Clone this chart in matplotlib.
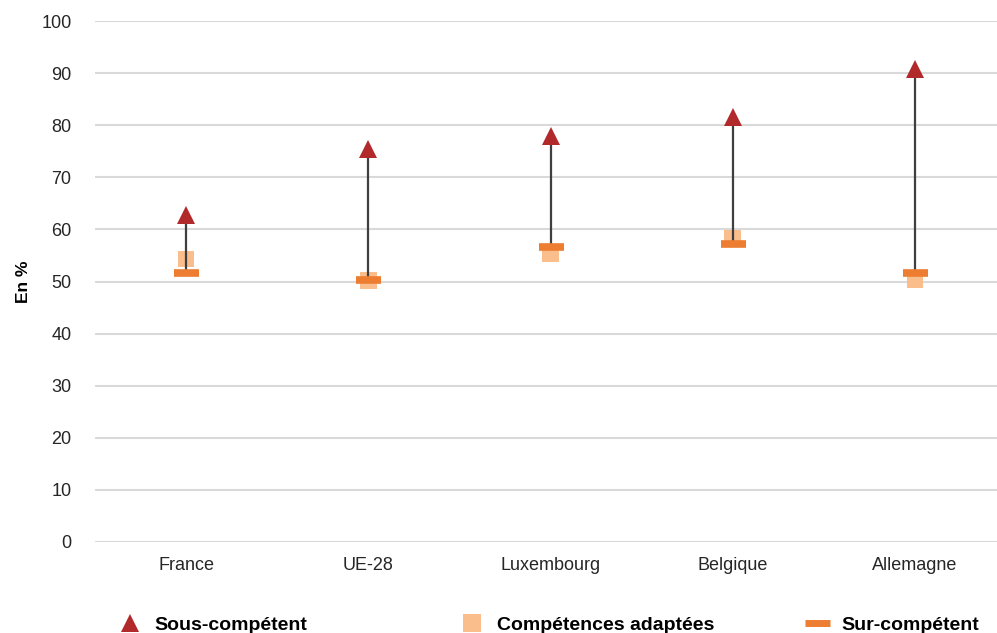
import matplotlib.pyplot as plt
from matplotlib.lines import Line2D

# data
pays = ['France', 'UE-28', 'Luxembourg', 'Belgique', 'Allemagne']
sous_competent = [62.7, 75.5, 78.0, 81.5, 90.8]
competences_adaptees = [54.3, 50.2, 55.3, 58.3, 50.3]
sur_competent = [51.7, 50.3, 56.6, 57.2, 51.6]
yticks = list(range(0, 101, 10))

plt.rcParams['font.family'] = ['Liberation Sans', 'DejaVu Sans']

fig = plt.figure(figsize=(9.97, 6.33), dpi=100)
ax = fig.add_axes([95 / 997, 1 - 542 / 633, 1 - 95 / 997, (542 - 21) / 633])

x = list(range(len(pays)))

ax.scatter(x, competences_adaptees, marker='s', s=12 ** 2, color='#F9BE8C',
           edgecolors='none', zorder=3)
ax.vlines(x, sur_competent, sous_competent, color='#3F3F3F', lw=1.6, zorder=4)
ax.plot(x, sur_competent, ls='none', marker='_', markersize=18,
        markeredgewidth=5.5, color='#ED7D31', zorder=5)
ax.plot(x, sous_competent, ls='none', marker='^', markersize=13,
        color='#B2292B', markeredgewidth=0, zorder=6)

ax.set_xlim(-0.5, 4.45)
ax.set_ylim(0, 100)
ax.set_yticks(yticks)
ax.set_xticks(x)
ax.set_xticklabels(pays)
ax.grid(axis='y', color='#D9D9D9', lw=1.5)
ax.set_axisbelow(True)
for s in ax.spines.values():
    s.set_visible(False)
ax.tick_params(axis='both', length=0, labelsize=13, colors='#262626')
ax.tick_params(axis='x', pad=11)
ax.tick_params(axis='y', pad=17)
ax.set_ylabel('En %', fontsize=12.5, fontweight='bold', labelpad=7)

# legend entries spread along the bottom
entries = [
    (Line2D([], [], ls='none', marker='^', markersize=13, color='#B2292B', markeredgewidth=0),
     'Sous-compétent', 103),
    (Line2D([], [], ls='none', marker='s', markersize=13, color='#F9BE8C', markeredgewidth=0),
     'Compétences adaptées', 445),
    (Line2D([], [], ls='none', marker='_', markersize=18, markeredgewidth=5, color='#ED7D31'),
     'Sur-compétent', 790),
]
for h, lab, px in entries:
    fig.legend([h], [lab], loc='center left', bbox_to_anchor=(px / 997, 0.012),
               frameon=False, handlelength=1.0, handletextpad=0.75,
               prop={'weight': 'bold', 'size': 14})

fig.savefig('out.png', dpi=100)
